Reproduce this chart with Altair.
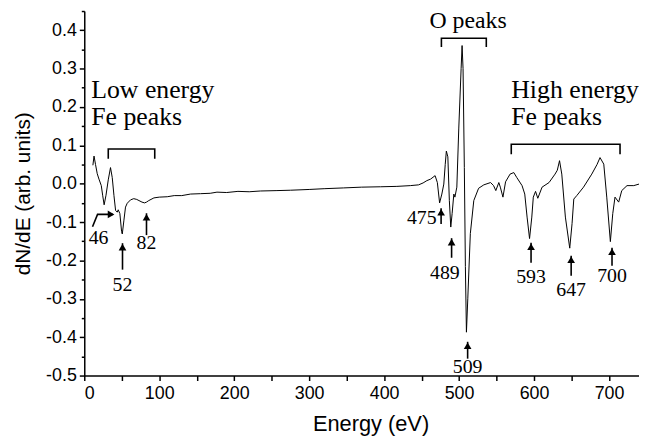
import altair as alt
import pandas as pd

# ---- spectrum ----
energy = [11.5, 13, 15, 17.3, 19.6, 22.7, 24.5, 26.5, 29, 32, 35, 37.3, 39.6, 41.8, 44, 45.3,
          47.5, 49.8, 50.7, 52.9, 55, 57.3, 61.8, 66, 70, 73, 77, 80.4, 83, 86, 92.9, 100,
          110.7, 120, 130, 141.8, 155, 168, 177, 190, 205, 220, 235, 257, 275, 300, 320, 346,
          370, 395, 417, 435, 446, 452, 457, 462, 468, 471, 474, 477, 479.6, 481.5, 483, 485,
          487, 488.9, 490.7, 493, 494.4, 497, 499.6, 502.7, 504, 505.3, 507, 508.4, 509.8,
          511.6, 515, 519.6, 526, 533, 542, 546, 549, 553, 555, 558.5, 562, 568, 573, 577,
          584, 587.6, 590.7, 594, 597, 599, 602, 605, 610.7, 620, 628, 631, 634, 637, 641.8,
          647.6, 650.7, 653, 657, 666, 677, 684, 688, 693, 697, 701.8, 705, 708, 712.9, 717,
          724, 733, 740]
signal = [0.048, 0.072, 0.05, 0.026, 0.012, -0.005, -0.03, -0.055, -0.03, 0.01, 0.042, 0.016,
          -0.031, -0.07, -0.074, -0.068, -0.078, -0.125, -0.131, -0.095, -0.061, -0.051, -0.042,
          -0.039, -0.041, -0.044, -0.048, -0.05, -0.048, -0.044, -0.037, -0.035, -0.034, -0.031,
          -0.031, -0.027, -0.026, -0.025, -0.022, -0.023, -0.02, -0.021, -0.019, -0.018, -0.017,
          -0.015, -0.013, -0.011, -0.009, -0.008, -0.007, -0.005, -0.003, 0.002, 0.008, 0.012,
          0.021, 0.003, -0.05, -0.027, -0.001, 0.05, 0.085, 0.07, -0.044, -0.113, -0.078, -0.027,
          -0.035, -0.009, 0.145, 0.30, 0.36, 0.30, 0.042, -0.216, -0.387, -0.30, -0.13, -0.044,
          -0.012, -0.003, 0.003, -0.005, -0.018, 0.003, -0.009, -0.035, 0.005, 0.025, 0.029,
          0.016, -0.005, -0.027, -0.087, -0.143, -0.087, -0.035, -0.02, -0.038, -0.009, 0.003,
          0.025, 0.035, 0.06, 0.025, -0.087, -0.168, -0.104, -0.04, -0.031, -0.009, 0.025, 0.05,
          0.068, 0.051, -0.035, -0.151, -0.078, -0.035, -0.048, -0.018, -0.005, -0.005, -0.001]

# ---- peak arrows ----
arrow_labels = ["52", "82", "475", "489", "509", "593", "647", "700"]
arrow_x = [51, 83, 476, 490, 511.4, 596, 649.5, 704]
arrow_tip = [-0.155, -0.077, -0.064, -0.142, -0.412, -0.154, -0.188, -0.167]
arrow_tail = [-0.224, -0.134, -0.105, -0.193, -0.456, -0.206, -0.24, -0.214]
label_x = [51, 83, 470, 481, 511.4, 596, 649.5, 704]
label_y = [-0.263, -0.155, -0.09, -0.232, -0.477, -0.242, -0.276, -0.24]
label_align = ["center", "center", "right", "center", "center", "center", "center", "center"]

# bent arrow for the 46 peak
bent_x = [11, 17.7, 38]
bent_y = [-0.112, -0.08, -0.08]
bent_head_x = [41]
bent_head_y = [-0.08]
bent_label = ["46"]
bent_label_x = [19]
bent_label_y = [-0.142]

# ---- group brackets ----
bracket_id = ["low"] * 4 + ["o"] * 4 + ["high"] * 4
bracket_x = [32, 32, 94, 94, 476.4, 476.4, 536.3, 536.3, 569.6, 569.6, 714.7, 714.7]
bracket_y = [0.065, 0.0905, 0.0905, 0.065, 0.356, 0.379, 0.379, 0.356, 0.077, 0.103, 0.103, 0.077]
bracket_ord = [0, 1, 2, 3] * 3

# ---- group titles ----
title_text = ["Low energy", "Fe peaks", "O peaks", "High energy", "Fe peaks"]
title_x = [9.3, 9.3, 512, 569.6, 569.6]
title_y = [0.224, 0.152, 0.405, 0.224, 0.152]
title_align = ["left", "left", "center", "left", "left"]

spec = pd.DataFrame({"E": energy, "v": signal})
arrows = pd.DataFrame({"lab": arrow_labels, "x": arrow_x, "tip": arrow_tip, "tail": arrow_tail,
                       "lx": label_x, "ly": label_y, "al": label_align})
bent = pd.DataFrame({"x": bent_x, "y": bent_y, "o": list(range(len(bent_x)))})
bent_head = pd.DataFrame({"x": bent_head_x, "y": bent_head_y})
bent_lab = pd.DataFrame({"lab": bent_label, "x": bent_label_x, "y": bent_label_y})
brackets = pd.DataFrame({"id": bracket_id, "x": bracket_x, "y": bracket_y, "o": bracket_ord})
titles = pd.DataFrame({"t": title_text, "x": title_x, "y": title_y, "al": title_align})

xs = alt.Scale(domain=[0, 740], nice=False, zero=False)
ys = alt.Scale(domain=[-0.5, 0.45], nice=False, zero=False)

AX_FONT = "Liberation Sans"
SERIF = "Liberation Serif"
MINUS = "\u2212"

x_axis = alt.Axis(values=list(range(0, 701, 50)),
                  labelExpr="datum.value % 100 == 0 ? datum.label : ''",
                  title="Energy (eV)", grid=False, tickSize=5, labelPadding=4,
                  titlePadding=11, titleX=289, labelFontSize=18, titleFontSize=22)
y_axis = alt.Axis(values=[round(-0.5 + 0.1 * i, 2) for i in range(10)],
                  labelExpr=f"replace(format(datum.value, '.1f'), '{MINUS}', '-')",
                  title="dN/dE (arb. units)", grid=False, tickSize=5, labelPadding=3,
                  titlePadding=12, labelFontSize=18, titleFontSize=21)
y_minor = alt.Axis(values=[round(-0.45 + 0.1 * i, 2) for i in range(10)], labels=False,
                   title=None, grid=False, tickSize=3, domain=False, orient="left")

line = alt.Chart(spec).mark_line(color="black", strokeWidth=1).encode(
    x=alt.X("E:Q", scale=xs, axis=x_axis),
    y=alt.Y("v:Q", scale=ys, axis=y_axis),
)
minor = alt.Chart(spec).mark_line(opacity=0).encode(
    x=alt.X("E:Q", scale=xs, axis=None),
    y=alt.Y("v:Q", scale=ys, axis=y_minor),
)

def X(f):
    return alt.X(f, type="quantitative", scale=xs, axis=None)

def Y(f):
    return alt.Y(f, type="quantitative", scale=ys, axis=None)

shafts = alt.Chart(arrows).mark_rule(color="black", strokeWidth=1.6).encode(
    x=X("x"), y=Y("tail"), y2="tip")
heads = alt.Chart(arrows).mark_point(shape="triangle-up", filled=True, size=60, color="black",
                                     opacity=1, yOffset=4).encode(x=X("x"), y=Y("tip"))
nums_c = alt.Chart(arrows[arrows.al == "center"]).mark_text(
    font=SERIF, fontSize=20, color="black", align="center", baseline="middle").encode(
    x=X("lx"), y=Y("ly"), text="lab")
nums_r = alt.Chart(arrows[arrows.al == "right"]).mark_text(
    font=SERIF, fontSize=20, color="black", align="right", baseline="middle").encode(
    x=X("lx"), y=Y("ly"), text="lab")

bent_line = alt.Chart(bent).mark_line(color="black", strokeWidth=1.6).encode(
    x=X("x"), y=Y("y"), order="o:O")
bent_h = alt.Chart(bent_head).mark_point(shape="triangle-right", filled=True, size=60,
                                         color="black", opacity=1, xOffset=-4).encode(
    x=X("x"), y=Y("y"))
bent_t = alt.Chart(bent_lab).mark_text(font=SERIF, fontSize=20, color="black",
                                       align="center", baseline="middle").encode(
    x=X("x"), y=Y("y"), text="lab")

brk = alt.Chart(brackets).mark_line(color="black", strokeWidth=1.6).encode(
    x=X("x"), y=Y("y"), detail="id:N", order="o:O")

t_left = alt.Chart(titles[titles.al == "left"]).mark_text(
    font=SERIF, fontSize=26, color="black", align="left", baseline="alphabetic").encode(
    x=X("x"), y=Y("y"), text="t")
t_center = alt.Chart(titles[titles.al == "center"]).mark_text(
    font=SERIF, fontSize=24, color="black", align="center", baseline="alphabetic").encode(
    x=X("x"), y=Y("y"), text="t")

chart = alt.layer(line, minor, shafts, heads, nums_c, nums_r, bent_line, bent_h, bent_t,
                  brk, t_left, t_center).resolve_axis(x="independent", y="independent").properties(
    width=560, height=368,
    padding={"left": 77, "top": 1, "right": 0, "bottom": 63},
    autosize=alt.AutoSizeParams(type="none"),
).configure_view(stroke=None).configure_axis(
    domainColor="black", domainWidth=1.5, tickColor="black", tickWidth=1.5,
    labelColor="black", titleColor="black", labelFont=AX_FONT, titleFont=AX_FONT,
    titleFontWeight="normal",
)

chart.save("out.html", embed_options={"renderer": "svg", "actions": False})
